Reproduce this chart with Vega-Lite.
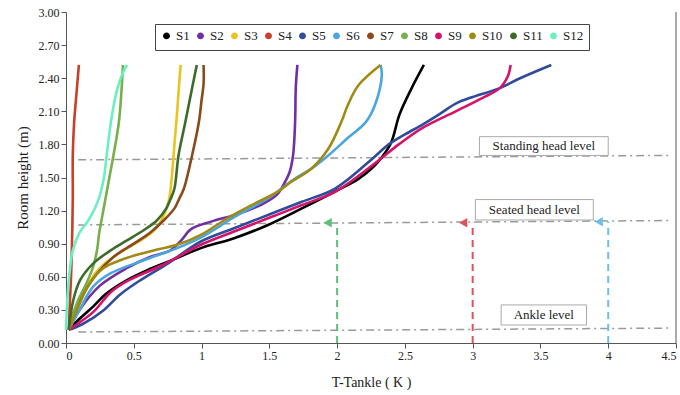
{
  "$schema": "https://vega.github.io/schema/vega-lite/v6.json",
  "width": 610,
  "height": 331,
  "autosize": "none",
  "padding": {"left": 66, "top": 12, "right": 4, "bottom": 52},
  "background": "white",
  "config": {
    "view": {"stroke": null},
    "font": "Liberation Serif",
    "axis": {"labelFont": "Liberation Serif", "titleFont": "Liberation Serif", "titleFontWeight": "normal", "domainColor": "#555", "tickColor": "#555", "labelColor": "#222", "titleColor": "#222", "grid": false, "labelOverlap": false}
  },
  "datasets": {
    "series": [
      {"s":"S1","T":0.02,"h":0.12},{"s":"S1","T":0.1,"h":0.22},{"s":"S1","T":0.2,"h":0.33},{"s":"S1","T":0.3,"h":0.45},{"s":"S1","T":0.45,"h":0.57},{"s":"S1","T":0.6,"h":0.66},{"s":"S1","T":0.8,"h":0.76},{"s":"S1","T":0.995,"h":0.86},{"s":"S1","T":1.24,"h":0.95},{"s":"S1","T":1.49,"h":1.07},{"s":"S1","T":1.74,"h":1.22},{"s":"S1","T":1.98,"h":1.37},{"s":"S1","T":2.16,"h":1.49},{"s":"S1","T":2.27,"h":1.6},{"s":"S1","T":2.34,"h":1.7},{"s":"S1","T":2.4,"h":1.82},{"s":"S1","T":2.46,"h":2.07},{"s":"S1","T":2.55,"h":2.31},{"s":"S1","T":2.64,"h":2.52},
      {"s":"S2","T":0.02,"h":0.12},{"s":"S2","T":0.1,"h":0.3},{"s":"S2","T":0.25,"h":0.52},{"s":"S2","T":0.45,"h":0.68},{"s":"S2","T":0.62,"h":0.78},{"s":"S2","T":0.77,"h":0.84},{"s":"S2","T":0.85,"h":0.93},{"s":"S2","T":0.92,"h":1.03},{"s":"S2","T":1.07,"h":1.1},{"s":"S2","T":1.27,"h":1.17},{"s":"S2","T":1.45,"h":1.26},{"s":"S2","T":1.56,"h":1.35},{"s":"S2","T":1.62,"h":1.47},{"s":"S2","T":1.65,"h":1.55},{"s":"S2","T":1.675,"h":1.7},{"s":"S2","T":1.69,"h":2.0},{"s":"S2","T":1.695,"h":2.31},{"s":"S2","T":1.707,"h":2.52},
      {"s":"S3","T":0.02,"h":0.12},{"s":"S3","T":0.08,"h":0.3},{"s":"S3","T":0.15,"h":0.5},{"s":"S3","T":0.25,"h":0.68},{"s":"S3","T":0.4,"h":0.82},{"s":"S3","T":0.55,"h":0.93},{"s":"S3","T":0.65,"h":1.02},{"s":"S3","T":0.72,"h":1.15},{"s":"S3","T":0.76,"h":1.3},{"s":"S3","T":0.78,"h":1.5},{"s":"S3","T":0.8,"h":1.8},{"s":"S3","T":0.82,"h":2.1},{"s":"S3","T":0.835,"h":2.35},{"s":"S3","T":0.846,"h":2.52},
      {"s":"S4","T":0.02,"h":0.12},{"s":"S4","T":0.03,"h":0.4},{"s":"S4","T":0.04,"h":0.7},{"s":"S4","T":0.05,"h":1.3},{"s":"S4","T":0.05,"h":1.7},{"s":"S4","T":0.06,"h":2.0},{"s":"S4","T":0.08,"h":2.3},{"s":"S4","T":0.095,"h":2.52},
      {"s":"S5","T":0.02,"h":0.12},{"s":"S5","T":0.12,"h":0.17},{"s":"S5","T":0.28,"h":0.3},{"s":"S5","T":0.4,"h":0.44},{"s":"S5","T":0.55,"h":0.57},{"s":"S5","T":0.75,"h":0.72},{"s":"S5","T":0.995,"h":0.92},{"s":"S5","T":1.24,"h":1.04},{"s":"S5","T":1.49,"h":1.16},{"s":"S5","T":1.74,"h":1.28},{"s":"S5","T":1.985,"h":1.4},{"s":"S5","T":2.26,"h":1.67},{"s":"S5","T":2.38,"h":1.8},{"s":"S5","T":2.5,"h":1.89},{"s":"S5","T":2.63,"h":1.98},{"s":"S5","T":2.75,"h":2.07},{"s":"S5","T":2.875,"h":2.17},{"s":"S5","T":3.0,"h":2.23},{"s":"S5","T":3.2,"h":2.31},{"s":"S5","T":3.35,"h":2.4},{"s":"S5","T":3.58,"h":2.52},
      {"s":"S6","T":0.02,"h":0.12},{"s":"S6","T":0.1,"h":0.3},{"s":"S6","T":0.2,"h":0.51},{"s":"S6","T":0.327,"h":0.63},{"s":"S6","T":0.574,"h":0.75},{"s":"S6","T":0.82,"h":0.86},{"s":"S6","T":1.0,"h":0.96},{"s":"S6","T":1.24,"h":1.14},{"s":"S6","T":1.5,"h":1.32},{"s":"S6","T":1.7,"h":1.5},{"s":"S6","T":1.81,"h":1.58},{"s":"S6","T":1.935,"h":1.7},{"s":"S6","T":2.08,"h":1.86},{"s":"S6","T":2.21,"h":2.0},{"s":"S6","T":2.28,"h":2.16},{"s":"S6","T":2.33,"h":2.43},{"s":"S6","T":2.32,"h":2.52},
      {"s":"S7","T":0.02,"h":0.12},{"s":"S7","T":0.054,"h":0.27},{"s":"S7","T":0.13,"h":0.45},{"s":"S7","T":0.23,"h":0.63},{"s":"S7","T":0.35,"h":0.78},{"s":"S7","T":0.5,"h":0.9},{"s":"S7","T":0.62,"h":1.0},{"s":"S7","T":0.72,"h":1.11},{"s":"S7","T":0.8,"h":1.22},{"s":"S7","T":0.84,"h":1.32},{"s":"S7","T":0.87,"h":1.4},{"s":"S7","T":0.93,"h":1.7},{"s":"S7","T":0.98,"h":2.0},{"s":"S7","T":1.0,"h":2.2},{"s":"S7","T":1.015,"h":2.35},{"s":"S7","T":1.015,"h":2.52},
      {"s":"S8","T":0.02,"h":0.12},{"s":"S8","T":0.05,"h":0.25},{"s":"S8","T":0.09,"h":0.39},{"s":"S8","T":0.15,"h":0.54},{"s":"S8","T":0.2,"h":0.69},{"s":"S8","T":0.23,"h":0.85},{"s":"S8","T":0.245,"h":1.0},{"s":"S8","T":0.26,"h":1.1},{"s":"S8","T":0.29,"h":1.3},{"s":"S8","T":0.32,"h":1.5},{"s":"S8","T":0.35,"h":1.7},{"s":"S8","T":0.39,"h":2.0},{"s":"S8","T":0.41,"h":2.3},{"s":"S8","T":0.42,"h":2.52},
      {"s":"S9","T":0.02,"h":0.12},{"s":"S9","T":0.08,"h":0.17},{"s":"S9","T":0.2,"h":0.28},{"s":"S9","T":0.33,"h":0.46},{"s":"S9","T":0.45,"h":0.56},{"s":"S9","T":0.7,"h":0.7},{"s":"S9","T":0.995,"h":0.89},{"s":"S9","T":1.24,"h":1.01},{"s":"S9","T":1.49,"h":1.13},{"s":"S9","T":1.74,"h":1.25},{"s":"S9","T":1.985,"h":1.37},{"s":"S9","T":2.26,"h":1.61},{"s":"S9","T":2.455,"h":1.8},{"s":"S9","T":2.63,"h":1.95},{"s":"S9","T":2.875,"h":2.1},{"s":"S9","T":3.07,"h":2.22},{"s":"S9","T":3.2,"h":2.31},{"s":"S9","T":3.26,"h":2.42},{"s":"S9","T":3.28,"h":2.52},
      {"s":"S10","T":0.02,"h":0.12},{"s":"S10","T":0.08,"h":0.3},{"s":"S10","T":0.18,"h":0.55},{"s":"S10","T":0.277,"h":0.68},{"s":"S10","T":0.4,"h":0.75},{"s":"S10","T":0.525,"h":0.8},{"s":"S10","T":0.68,"h":0.85},{"s":"S10","T":0.82,"h":0.89},{"s":"S10","T":0.995,"h":0.98},{"s":"S10","T":1.19,"h":1.13},{"s":"S10","T":1.37,"h":1.25},{"s":"S10","T":1.56,"h":1.37},{"s":"S10","T":1.66,"h":1.46},{"s":"S10","T":1.81,"h":1.58},{"s":"S10","T":1.935,"h":1.76},{"s":"S10","T":2.03,"h":2.0},{"s":"S10","T":2.08,"h":2.16},{"s":"S10","T":2.16,"h":2.34},{"s":"S10","T":2.32,"h":2.52},
      {"s":"S11","T":0.02,"h":0.12},{"s":"S11","T":0.054,"h":0.39},{"s":"S11","T":0.104,"h":0.57},{"s":"S11","T":0.2,"h":0.72},{"s":"S11","T":0.33,"h":0.84},{"s":"S11","T":0.45,"h":0.93},{"s":"S11","T":0.57,"h":1.02},{"s":"S11","T":0.67,"h":1.11},{"s":"S11","T":0.74,"h":1.22},{"s":"S11","T":0.77,"h":1.3},{"s":"S11","T":0.8,"h":1.4},{"s":"S11","T":0.83,"h":1.7},{"s":"S11","T":0.88,"h":2.0},{"s":"S11","T":0.93,"h":2.31},{"s":"S11","T":0.965,"h":2.52},
      {"s":"S12","T":0.0,"h":0.12},{"s":"S12","T":0.01,"h":0.4},{"s":"S12","T":0.03,"h":0.68},{"s":"S12","T":0.05,"h":0.84},{"s":"S12","T":0.1,"h":1.0},{"s":"S12","T":0.17,"h":1.12},{"s":"S12","T":0.24,"h":1.3},{"s":"S12","T":0.28,"h":1.5},{"s":"S12","T":0.3,"h":1.7},{"s":"S12","T":0.34,"h":2.07},{"s":"S12","T":0.38,"h":2.31},{"s":"S12","T":0.42,"h":2.45},{"s":"S12","T":0.45,"h":2.52}
    ],
    "levels": [
      {"name":"Standing head level","x1":0.09,"x2":4.45,"y1":1.66,"y2":1.7,"bx1":3.05,"bx2":4.0,"by1":1.7,"by2":1.87},
      {"name":"Seated head level","x1":0.09,"x2":4.45,"y1":1.07,"y2":1.11,"bx1":3.02,"bx2":3.89,"by1":1.115,"by2":1.3},
      {"name":"Ankle level","x1":0.09,"x2":4.45,"y1":0.1,"y2":0.135,"bx1":3.21,"bx2":3.84,"by1":0.163,"by2":0.345}
    ],
    "arrows": [
      {"k":"a","T":2,"tip":1.93,"h":1.09},
      {"k":"b","T":3,"tip":2.93,"h":1.09},
      {"k":"c","T":4,"tip":3.93,"h":1.1}
    ]
  },
  "layer": [
    {
      "data": {"name": "levels"},
      "mark": {"type": "rule", "color": "#9a9a9a", "strokeWidth": 1.5, "strokeDash": [8, 4, 2, 4]},
      "encoding": {
        "x": {"field": "x1", "type": "quantitative", "scale": {"domain": [0, 4.5], "nice": false}, "title": "T-Tankle ( K )",
          "axis": {"values": [0, 0.5, 1, 1.5, 2, 2.5, 3, 3.5, 4, 4.5], "tickCount": 12, "format": "~g", "labelFontSize": 12, "titleFontSize": 14, "titlePadding": 14, "tickSize": 5}},
        "x2": {"field": "x2"},
        "y": {"field": "y1", "type": "quantitative", "scale": {"domain": [0, 3], "nice": false}, "title": "Room height (m)",
          "axis": {"values": [0, 0.3, 0.6, 0.9, 1.2, 1.5, 1.8, 2.1, 2.4, 2.7, 3.0], "tickCount": 12, "format": ".2f", "labelFontSize": 12, "titleFontSize": 15, "titlePadding": 8, "tickSize": 5}},
        "y2": {"field": "y2"}
      }
    },
    {
      "data": {"name": "levels"},
      "mark": {"type": "rect", "fill": "white", "stroke": "#aaa", "strokeWidth": 1},
      "encoding": {
        "x": {"field": "bx1", "type": "quantitative"},
        "x2": {"field": "bx2"},
        "y": {"field": "by1", "type": "quantitative"},
        "y2": {"field": "by2"}
      }
    },
    {
      "data": {"name": "levels"},
      "transform": [{"calculate": "(datum.bx1+datum.bx2)/2", "as": "cx"}, {"calculate": "(datum.by1+datum.by2)/2", "as": "cy"}],
      "mark": {"type": "text", "font": "Liberation Serif", "fontSize": 13, "color": "#222", "baseline": "middle", "align": "center"},
      "encoding": {
        "x": {"field": "cx", "type": "quantitative"},
        "y": {"field": "cy", "type": "quantitative"},
        "text": {"field": "name"}
      }
    },
    {
      "data": {"name": "arrows"},
      "transform": [{"calculate": "0", "as": "base"}],
      "mark": {"type": "rule", "strokeWidth": 2, "strokeDash": [7, 5]},
      "encoding": {
        "x": {"field": "T", "type": "quantitative"},
        "y": {"field": "base", "type": "quantitative"},
        "y2": {"field": "h"},
        "stroke": {"field": "k", "type": "nominal", "scale": {"domain": ["a", "b", "c"], "range": ["#5cc07a", "#e0525a", "#6cc0e8"]}, "legend": null}
      }
    },
    {
      "data": {"name": "arrows"},
      "mark": {"type": "point", "shape": "triangle-left", "filled": true, "size": 90, "opacity": 1},
      "encoding": {
        "x": {"field": "tip", "type": "quantitative"},
        "y": {"field": "h", "type": "quantitative"},
        "fill": {"field": "k", "type": "nominal", "scale": {"domain": ["a", "b", "c"], "range": ["#5cc07a", "#e0525a", "#6cc0e8"]}, "legend": null}
      }
    },
    {
      "data": {"name": "series"},
      "mark": {"type": "line", "strokeWidth": 2.6, "interpolate": "catmull-rom"},
      "encoding": {
        "x": {"field": "T", "type": "quantitative"},
        "y": {"field": "h", "type": "quantitative"},
        "order": {"field": "h", "type": "quantitative"},
        "color": {"field": "s", "type": "nominal", "title": null,
          "scale": {"domain": ["S1","S2","S3","S4","S5","S6","S7","S8","S9","S10","S11","S12"],
            "range": ["#000000","#7030a0","#e8c520","#c8402a","#2f4b9a","#4ba6e0","#8b4a1c","#77b04a","#d4146a","#a08a14","#3e6b2b","#6af0c0"]},
          "legend": {"orient": "none", "legendX": 89, "legendY": 12, "direction": "horizontal", "columns": 12, "symbolType": "circle", "symbolSize": 12, "symbolStrokeWidth": 3.5, "labelFont": "Liberation Serif", "labelFontSize": 13, "labelColor": "#222", "strokeColor": "#444", "fillColor": "white", "padding": 5, "columnPadding": 1, "labelOffset": 3}}
      }
    },
    {
      "data": {"values": [{"x": 4.5, "y0": 0, "y1": 3}]},
      "mark": {"type": "rule", "color": "#555", "strokeWidth": 1},
      "encoding": {
        "x": {"field": "x", "type": "quantitative"},
        "y": {"field": "y0", "type": "quantitative"},
        "y2": {"field": "y1"}
      }
    }
  ]
}
